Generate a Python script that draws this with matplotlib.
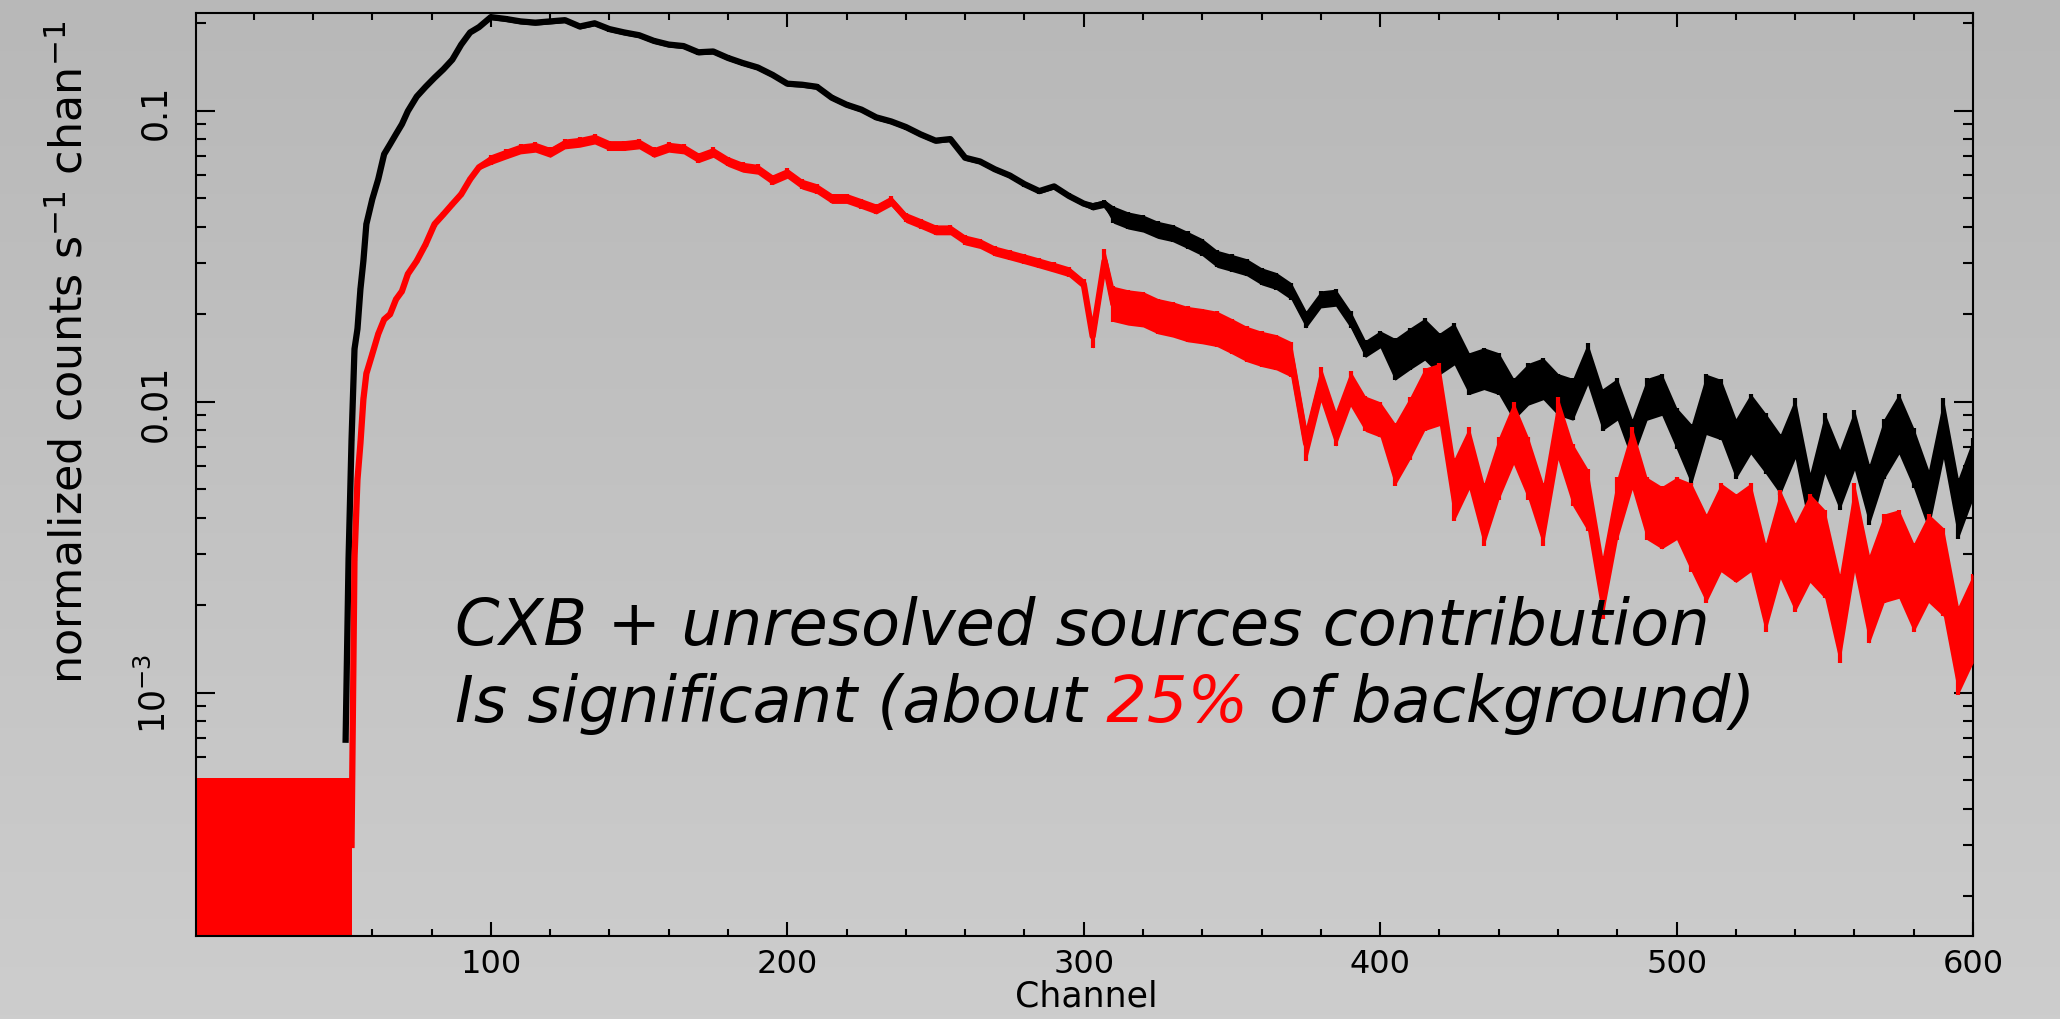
import numpy as np
import matplotlib
matplotlib.use('Agg')
import matplotlib.pyplot as plt
from matplotlib.colors import LinearSegmentedColormap
from matplotlib.text import Annotation
from matplotlib.ticker import FixedLocator, FixedFormatter, MultipleLocator, LogLocator, NullFormatter

# channel grid
chan = [51, 52, 53, 54, 55, 56, 57, 58, 60, 62, 64, 66, 68, 70, 72, 75, 78, 81, 84, 87, 90, 93, 96,
        100, 105, 110, 115, 120, 125, 130, 135, 140, 145, 150, 155, 160, 165, 170, 175, 180, 185,
        190, 195, 200, 205, 210, 215, 220, 225, 230, 235, 240, 245, 250, 255, 260, 265, 270, 275,
        280, 285, 290, 295, 300, 303, 307,
        310, 315, 320, 325, 330, 335, 340, 345, 350, 355, 360, 365, 370, 375, 380, 385, 390, 395, 400,
        405, 410, 415, 420, 425, 430, 435, 440, 445, 450, 455, 460, 465, 470, 475, 480, 485, 490, 495, 500,
        505, 510, 515, 520, 525, 530, 535, 540, 545, 550, 555, 560, 565, 570, 575, 580, 585, 590, 595, 600]

# total background spectrum (black)
black = [0.00069, 0.0029, 0.0074, 0.0152, 0.0178, 0.0244, 0.0305, 0.0408, 0.0497, 0.0582, 0.0710,
         0.0768, 0.0832, 0.0900, 0.0998, 0.112, 0.121, 0.130, 0.139, 0.150, 0.169, 0.186, 0.194,
         0.210, 0.207, 0.203, 0.201, 0.203, 0.205, 0.195, 0.200, 0.191, 0.186, 0.182, 0.174, 0.169,
         0.167, 0.159, 0.160, 0.152, 0.146, 0.141, 0.133, 0.124, 0.123, 0.121, 0.111, 0.105, 0.101,
         0.095, 0.092, 0.088, 0.083, 0.079, 0.080, 0.069, 0.067, 0.063, 0.060, 0.056, 0.053, 0.055,
         0.051, 0.048, 0.047, 0.048,
         0.044, 0.042, 0.041, 0.039, 0.038, 0.036, 0.034, 0.031, 0.030, 0.029, 0.027, 0.026, 0.024,
         0.0192, 0.0225, 0.0228, 0.0192, 0.0152, 0.0164,
         0.0140, 0.0152, 0.0164, 0.0146, 0.0158, 0.0125, 0.0130, 0.0125, 0.0102, 0.0115, 0.0120,
         0.0106, 0.0102, 0.0135, 0.0094, 0.0102, 0.0074, 0.0102, 0.0106, 0.0081,
         0.0066, 0.0098, 0.0094, 0.0069, 0.0084, 0.0072, 0.0061, 0.0081, 0.0045, 0.0072, 0.0054,
         0.0074, 0.0048, 0.0069, 0.0084, 0.0064, 0.0046, 0.0081, 0.0043, 0.0059]

# CXB + unresolved sources (red)
red = [np.nan, np.nan, 0.0003, 0.0029, 0.0054, 0.0072, 0.0102, 0.0125, 0.0146, 0.0171, 0.0192,
       0.0200, 0.0225, 0.0240, 0.0275, 0.0305, 0.0348, 0.0408, 0.0441, 0.0478, 0.0517, 0.0582, 0.0640,
       0.068, 0.071, 0.074, 0.075, 0.072, 0.077, 0.078, 0.080, 0.076, 0.076, 0.077, 0.072, 0.075,
       0.074, 0.069, 0.072, 0.067, 0.064, 0.063, 0.058, 0.061, 0.056, 0.054, 0.050, 0.050, 0.048,
       0.046, 0.049, 0.043, 0.041, 0.039, 0.039, 0.036, 0.035, 0.033, 0.032, 0.031, 0.030, 0.029,
       0.028, 0.0254, 0.0168, 0.0305,
       0.0217, 0.0211, 0.0208, 0.0197, 0.0192, 0.0185, 0.0182, 0.0178, 0.0168, 0.0158, 0.0152,
       0.0148, 0.0140, 0.0072, 0.0115, 0.0081, 0.0111, 0.0091, 0.0087,
       0.0066, 0.0081, 0.0102, 0.0106, 0.0050, 0.0064, 0.0041, 0.0059, 0.0078, 0.0059, 0.0041,
       0.0081, 0.0056, 0.0046, 0.0023, 0.0043, 0.0064, 0.0043, 0.0040, 0.0043,
       0.0037, 0.0029, 0.0037, 0.0034, 0.0037, 0.0023, 0.0035, 0.0027, 0.0034, 0.0030, 0.0018,
       0.0037, 0.0021, 0.0029, 0.0030, 0.0023, 0.0029, 0.0026, 0.0014, 0.0018]

# relative error bar sizes (the noisy band gets wider at high channels)
black_err = [0.01] * 23 + [0.02] * 41 + [0.03] * 2 + [0.07] * 19 + [0.18] * 20 + [0.27] * 20
red_err = [0.02] * 23 + [0.04] * 41 + [0.10] * 2 + [0.15] * 19 + [0.28] * 20 + [0.42] * 20

# low channels: red points with error bars down to zero
block_chan = [0.5, 53.2]
block_top = 5.1e-4

x_ticks = [100, 200, 300, 400, 500, 600]
y_ticks = [1e-3, 1e-2, 1e-1]
y_ticklabels = ['$10^{-3}$', '0.01', '0.1']

fig = plt.figure(figsize=(20.6, 10.2), dpi=100)

# grey gradient background
bg = fig.add_axes([0, 0, 1, 1], zorder=-10)
grad = np.linspace(0, 1, 256).reshape(-1, 1)
cmap = LinearSegmentedColormap.from_list('bg', ['#b8b8b8', '#cdcdcd'])
bg.imshow(grad, aspect='auto', cmap=cmap, extent=[0, 1, 0, 1], origin='upper')
bg.axis('off')

ax = fig.add_axes([0.0951, 0.0814, 0.8627, 0.9049])
ax.patch.set_alpha(0)
ax.set_yscale('log')
ax.set_xlim(0.5, 600)
ax.set_ylim(1.46e-4, 0.217)

c = np.array(chan)
ax.fill_between(block_chan, [1e-6, 1e-6], [block_top, block_top], color='red', lw=0, zorder=2)

z = 3
for vals, errs, col in [(black, black_err, 'black'), (red, red_err, 'red')]:
    v = np.array(vals)
    e = np.array(errs)
    lo = v / (1 + e)
    hi = v * (1 + e)
    ax.fill_between(c, lo, hi, color=col, lw=0, zorder=z)
    ax.errorbar(c, v, yerr=[v - lo, hi - v], fmt='none', ecolor=col, elinewidth=3, zorder=z)
    ax.plot(c, v, color=col, lw=4.5, zorder=z)
    z += 1

for s in ax.spines.values():
    s.set_linewidth(1.5)
    s.set_color('black')

ax.xaxis.set_major_locator(FixedLocator(x_ticks))
ax.xaxis.set_minor_locator(MultipleLocator(20))
ax.yaxis.set_major_locator(FixedLocator(y_ticks))
ax.yaxis.set_major_formatter(FixedFormatter(y_ticklabels))
ax.yaxis.set_minor_locator(LogLocator(base=10, subs=np.arange(2, 10)))
ax.yaxis.set_minor_formatter(NullFormatter())

ax.tick_params(which='both', direction='in', top=True, right=True, color='black', width=1.5)
ax.tick_params(axis='x', which='major', length=10, labelsize=23, pad=9)
ax.tick_params(axis='x', which='minor', length=5)
ax.tick_params(axis='y', which='major', length=14, pad=22, labelsize=25, labelrotation=90)
ax.tick_params(axis='y', which='minor', length=7)

fig.canvas.draw()
for lab in ax.get_yticklabels():
    lab.set_rotation_mode('anchor')
    lab.set_horizontalalignment('center')
    lab.set_verticalalignment('baseline')

fig.text(70 / 2060, 1 - 352 / 1020, 'normalized counts s$^{-1}$ chan$^{-1}$', rotation=90,
         ha='center', va='center', fontsize=32)
fig.text(1086 / 2060, 1 - 997 / 1020, 'Channel', ha='center', va='center', fontsize=25)

# annotation
fs = 46
fig.text(455 / 2060, 1 - 645 / 1020, 'CXB + unresolved sources contribution',
         fontsize=fs, style='italic', va='baseline')
t1 = fig.text(455 / 2060, 1 - 722 / 1020, 'Is significant (about',
              fontsize=fs, style='italic', va='baseline')
t2 = fig.add_artist(Annotation(' 25%', xy=(1, 0), xycoords=t1, va='bottom',
                               fontsize=fs, style='italic', color='red'))
t3 = fig.add_artist(Annotation(' of background)', xy=(1, 0), xycoords=t2, va='bottom',
                               fontsize=fs, style='italic'))

fig.savefig('out.png', dpi=100)
